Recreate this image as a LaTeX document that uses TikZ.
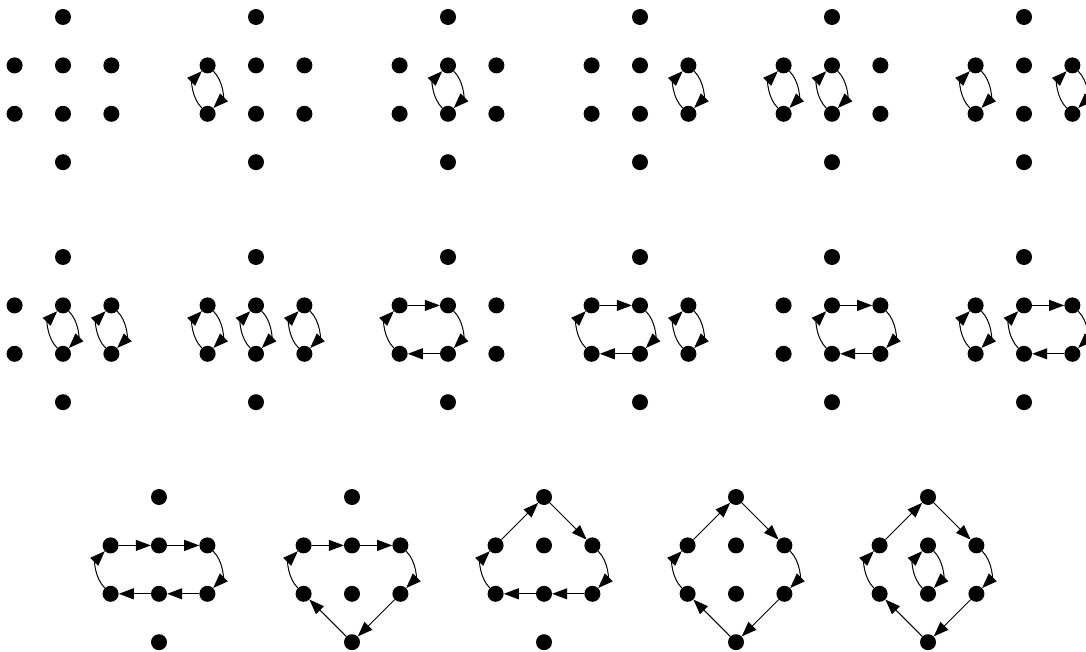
\documentclass[tikz,border=0pt]{standalone}
\usepackage{tikz}
\usetikzlibrary{arrows.meta,positioning}
% eight dots: top, two rows of three, bottom
\newcommand{\dotgraph}[3]{%
  \node[vtx] (#1t) at (#2,#3) {};
  \node[vtx, below=32pt of #1t] (#1m1) {};
  \node[vtx, left=32pt of #1m1] (#1l1) {};
  \node[vtx, right=32pt of #1m1] (#1r1) {};
  \node[vtx, below=32pt of #1m1] (#1m2) {};
  \node[vtx, left=32pt of #1m2] (#1l2) {};
  \node[vtx, right=32pt of #1m2] (#1r2) {};
  \node[vtx, below=32pt of #1m2] (#1b) {};
}
\newcommand{\twocycle}[1]{%
  \draw[arr] (#12) to[bend left=45] (#11);
  \draw[arr] (#11) to[bend left=45] (#12);
}
\newcommand{\fourcycle}[3]{%
  \draw[arr] (#1#21) -- (#1#31);
  \draw[arr] (#1#31) to[bend left=45] (#1#32);
  \draw[arr] (#1#32) -- (#1#22);
  \draw[arr] (#1#22) to[bend left=45] (#1#21);
}

\begin{document}
\begin{tikzpicture}[
  x=1pt, y=1pt,
  vtx/.style={circle, fill=black, minimum size=16pt, inner sep=0pt},
  arr/.style={-{Triangle[length=15pt, width=11pt]}, line width=1pt}
]
\useasboundingbox (0,0) rectangle (1086,-652);
% first row
\dotgraph{g1}{63}{-17}
\dotgraph{g2}{256}{-17}
\dotgraph{g3}{448}{-17}
\dotgraph{g4}{640}{-17}
\dotgraph{g5}{832}{-17}
\dotgraph{g6}{1024}{-17}
\twocycle{g2l}
\twocycle{g3m}
\twocycle{g4r}
\twocycle{g5l}
\twocycle{g5m}
\twocycle{g6l}
\twocycle{g6r}
% second row
\dotgraph{g7}{63}{-257}
\dotgraph{g8}{256}{-257}
\dotgraph{g9}{448}{-257}
\dotgraph{g10}{640}{-257}
\dotgraph{g11}{832}{-257}
\dotgraph{g12}{1024}{-257}
\twocycle{g7m}
\twocycle{g7r}
\twocycle{g8l}
\twocycle{g8m}
\twocycle{g8r}
\fourcycle{g9}{l}{m}
\fourcycle{g10}{l}{m}
\twocycle{g10r}
\fourcycle{g11}{m}{r}
\twocycle{g12l}
\fourcycle{g12}{m}{r}
% third row
\dotgraph{g13}{159}{-497}
\dotgraph{g14}{352}{-497}
\dotgraph{g15}{544}{-497}
\dotgraph{g16}{736}{-497}
\dotgraph{g17}{928}{-497}
\draw[arr] (g13l1) -- (g13m1);
\draw[arr] (g13m1) -- (g13r1);
\draw[arr] (g13r1) to[bend left=45] (g13r2);
\draw[arr] (g13r2) -- (g13m2);
\draw[arr] (g13m2) -- (g13l2);
\draw[arr] (g13l2) to[bend left=45] (g13l1);
\draw[arr] (g14l1) -- (g14m1);
\draw[arr] (g14m1) -- (g14r1);
\draw[arr] (g14r1) to[bend left=45] (g14r2);
\draw[arr] (g14r2) -- (g14b);
\draw[arr] (g14b) -- (g14l2);
\draw[arr] (g14l2) to[bend left=45] (g14l1);
\draw[arr] (g15t) -- (g15r1);
\draw[arr] (g15r1) to[bend left=45] (g15r2);
\draw[arr] (g15r2) -- (g15m2);
\draw[arr] (g15m2) -- (g15l2);
\draw[arr] (g15l2) to[bend left=45] (g15l1);
\draw[arr] (g15l1) -- (g15t);
\draw[arr] (g16t) -- (g16r1);
\draw[arr] (g16r1) to[bend left=45] (g16r2);
\draw[arr] (g16r2) -- (g16b);
\draw[arr] (g16b) -- (g16l2);
\draw[arr] (g16l2) to[bend left=45] (g16l1);
\draw[arr] (g16l1) -- (g16t);
\draw[arr] (g17t) -- (g17r1);
\draw[arr] (g17r1) to[bend left=45] (g17r2);
\draw[arr] (g17r2) -- (g17b);
\draw[arr] (g17b) -- (g17l2);
\draw[arr] (g17l2) to[bend left=45] (g17l1);
\draw[arr] (g17l1) -- (g17t);
\twocycle{g17m}
\end{tikzpicture}
\end{document}
